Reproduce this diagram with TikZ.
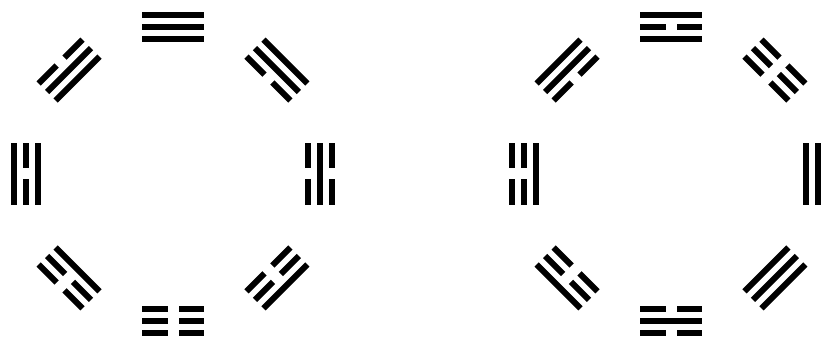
\documentclass[tikz,border=0pt]{standalone}
\tikzset{yao/.style={fill=black}}
\newcommand\yaoline[2]{%
  \ifnum#2=1
    \fill[yao] (-31,#1-3) rectangle (31,#1+3);
  \else
    \fill[yao] (-31,#1-3) rectangle (-5.5,#1+3);
    \fill[yao] (5.5,#1-3) rectangle (31,#1+3);
  \fi}
% #1 centre x, #2 centre y, #3 angle, #4 #5 #6 lines inner to outer (1 solid, 0 broken)
\newcommand\bagua[6]{%
  \begin{scope}[shift={(#1,#2)}]
  \begin{scope}[shift={(#3:147)},rotate=#3-90]
    \yaoline{-12}{#4}\yaoline{0}{#5}\yaoline{12}{#6}
  \end{scope}
  \end{scope}}
\begin{document}
\begin{tikzpicture}[x=1pt,y=1pt]
\useasboundingbox (0,0) rectangle (825,339);
\clip (0,0) rectangle (825,339);
% Earlier Heaven (left)
\bagua{173}{165}{90}{1}{1}{1}
\bagua{173}{165}{45}{0}{1}{1}
\bagua{173}{165}{0}{0}{1}{0}
\bagua{173}{165}{-45}{0}{0}{1}
\bagua{173}{165}{-90}{0}{0}{0}
\bagua{173}{165}{-135}{1}{0}{0}
\bagua{173}{165}{180}{1}{0}{1}
\bagua{173}{165}{135}{1}{1}{0}
% Later Heaven (right)
\bagua{671}{165}{90}{1}{0}{1}
\bagua{671}{165}{135}{0}{1}{1}
\bagua{671}{165}{45}{0}{0}{0}
\bagua{671}{165}{180}{1}{0}{0}
\bagua{671}{165}{0}{1}{1}{0}
\bagua{671}{165}{-45}{1}{1}{1}
\bagua{671}{165}{-90}{0}{1}{0}
\bagua{671}{165}{-135}{0}{0}{1}
\end{tikzpicture}
\end{document}
